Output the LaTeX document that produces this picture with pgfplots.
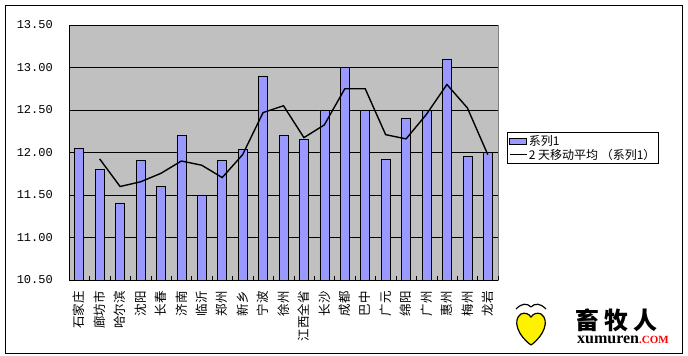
\documentclass[border=0pt]{standalone}
\usepackage{pgfplots}
\pgfplotsset{compat=1.18}
\usepackage{fontspec}
\setmainfont{Noto Sans CJK SC}
\setmonofont{Liberation Mono}
\newfontfamily\serifb{Liberation Serif}
\definecolor{barblue}{HTML}{9999FF}
\definecolor{plotgray}{HTML}{C0C0C0}
\definecolor{bordergray}{HTML}{808080}
\begin{document}
\begin{tikzpicture}
\path[use as bounding box] (0,0) rectangle (688pt,356pt);
\draw[black, line width=0.8pt] (5pt,3pt) rectangle (682pt,351pt);
\begin{axis}[
  at={(69pt,76pt)}, anchor=south west,
  scale only axis, width=429pt, height=255pt,
  xmin=-0.5, xmax=20.5, ymin=10.5, ymax=13.5,
  axis background/.style={fill=plotgray, draw=bordergray},
  axis x line*=bottom, axis y line*=left,
  axis line style={black, -, line width=0.8pt},
  ytick={10.5,11,11.5,12,12.5,13,13.5},
  ymajorgrids, major grid style={black, line width=0.6pt},
  xtick={0,...,20},
  xticklabels={石家庄,廊坊市,哈尔滨,沈阳,长春,济南,临沂,郑州,新乡,宁波,徐州,江西全省,长沙,成都,巴中,广元,绵阳,广州,惠州,梅州,龙岩},
  minor xtick={-0.5,0.5,...,20.5},
  major x tick style={draw=none},
  minor tick length=4pt, major tick length=0pt,
  tick align=inside,
  x tick style={black}, 
  xticklabel style={rotate=90, anchor=east, font=\fontsize{12.5}{13}\selectfont, inner sep=0pt, xshift=-11pt},
  yticklabel style={font=\ttfamily\fontsize{12}{12}\selectfont, inner sep=0pt, xshift=-16pt},
  /pgf/number format/.cd, fixed, fixed zerofill, precision=2, assume math mode=true,
  /pgfplots/.cd,
  legend style={at={(1.021,0.518)}, anchor=west, draw=black, line width=0.6pt, fill=white,
    font=\fontsize{12}{13}\selectfont, inner sep=1.5pt, row sep=-1pt,
    nodes={inner sep=1.5pt}},
  legend cell align=left,
  clip=true,
]
\addplot[ybar, bar width=9pt, fill=barblue, draw=black, line width=0.5pt, area legend] coordinates {
(0,12.05) (1,11.80) (2,11.40) (3,11.91) (4,11.60) (5,12.20) (6,11.50) (7,11.91) (8,12.04) (9,12.90)
(10,12.20) (11,12.15) (12,12.50) (13,13.00) (14,12.50) (15,11.92) (16,12.40) (17,12.50) (18,13.10) (19,11.95) (20,12.00)
};
\addlegendentry{系列1}
\addplot[black, line width=1.4pt, mark=none] coordinates {
(1,11.925) (2,11.60) (3,11.655) (4,11.755) (5,11.90) (6,11.85) (7,11.705) (8,11.975) (9,12.47) (10,12.55)
(11,12.175) (12,12.325) (13,12.75) (14,12.75) (15,12.21) (16,12.16) (17,12.45) (18,12.80) (19,12.525) (20,11.975)
};
\addlegendentry{2 天移动平均 （系列1）}
\end{axis}
% logo
\draw[black, line width=1.2pt] (516pt,47pt) .. controls (522pt,53pt) and (527pt,53pt) .. (531pt,49pt);
\draw[black, line width=1.2pt] (531pt,49pt) .. controls (535pt,53pt) and (540pt,53pt) .. (546pt,47pt);
\draw[black, line width=1.2pt, fill=yellow] (531pt,11pt) .. controls (518pt,20pt) and (512pt,36pt) .. (521pt,42pt) .. controls (525pt,44pt) and (529pt,42pt) .. (531pt,39pt) .. controls (533pt,42pt) and (537pt,44pt) .. (541pt,42pt) .. controls (550pt,36pt) and (544pt,20pt) .. (531pt,11pt);
\node[anchor=west, font=\bfseries\fontsize{24}{24}\selectfont, inner sep=0pt] at (575pt,36pt) {畜\hspace{5pt}牧\hspace{5pt}人};
\node[anchor=west, font=\serifb\bfseries\fontsize{16}{16}\selectfont, inner sep=0pt] at (577pt,16pt) {xumuren\textcolor{red}{\fontsize{11}{11}\selectfont.COM}};
\end{tikzpicture}
\end{document}
